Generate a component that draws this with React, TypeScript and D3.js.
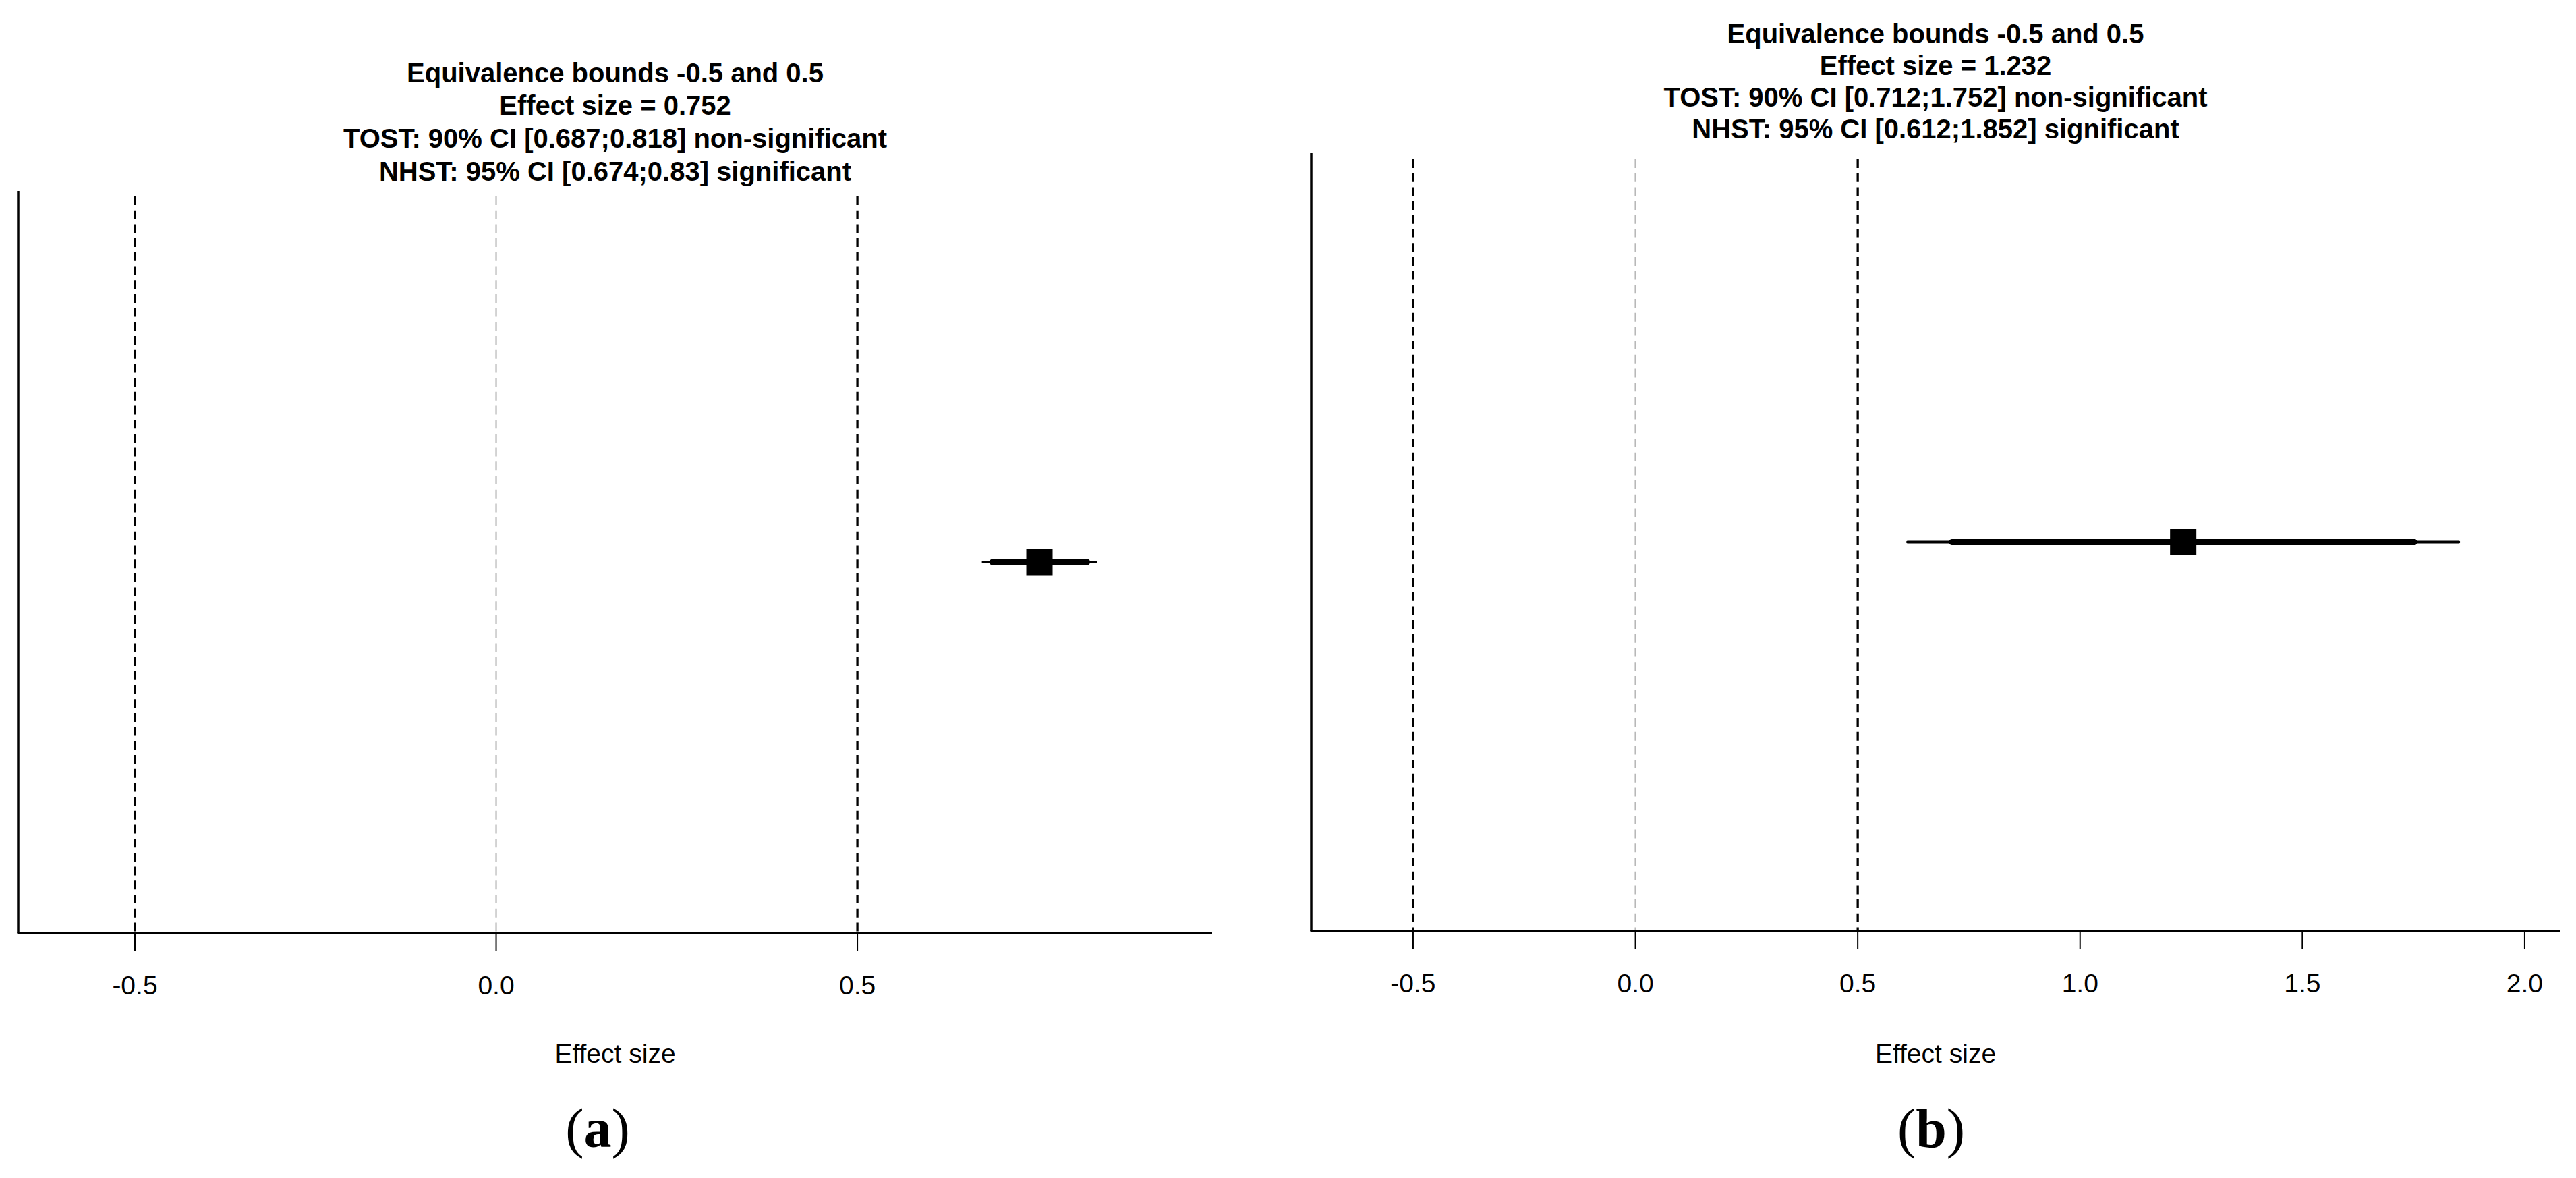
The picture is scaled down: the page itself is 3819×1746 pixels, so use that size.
import React, { useEffect, useRef } from 'react'
import * as d3 from 'd3'

// values
const panelNames = ['(a)', '(b)']
const effectSizes = [0.752, 1.232]
const ci90Lower = [0.687, 0.712]
const ci90Upper = [0.818, 1.752]
const ci95Lower = [0.674, 0.612]
const ci95Upper = [0.83, 1.852]
const equivBounds = [-0.5, 0.5]
const tickValuesA = [-0.5, 0.0, 0.5]
const tickValuesB = [-0.5, 0.0, 0.5, 1.0, 1.5, 2.0]
const xDomainA = [-0.6615, 0.991]
const xDomainB = [-0.729, 2.079]

const W = 3819
const H = 1746
const SANS = '"Liberation Sans", Arial, Helvetica, sans-serif'

// layout of each panel, in pixels
const layouts = [
    { left: 27, right: 1797, top: 283, bottom: 1383, dashTop: 291, titleBase: [122, 170, 219, 268], labelX: 886 },
    { left: 1944, right: 3795, top: 227, bottom: 1380, dashTop: 236, titleBase: [64, 111, 158, 205], labelX: 2863 }
]

// R prints a plain hyphen, not the unicode minus
const fmt = (d) => d3.format('.1f')(d).replace('\u2212', '-')

const App = () => {
    const ref = useRef(null)

    useEffect(() => {
        const svg = d3.select(ref.current)
        svg.selectAll('*').remove()

        const domains = [xDomainA, xDomainB]
        const ticks = [tickValuesA, tickValuesB]

        layouts.forEach((L, i) => {
            const x = d3.scaleLinear().domain(domains[i]).range([L.left, L.right])
            const y = d3.scaleLinear().domain([0, 1]).range([L.bottom, L.top])
            const g = svg.append('g')

            // title, four lines
            const lines = [
                'Equivalence bounds ' + equivBounds[0] + ' and ' + equivBounds[1],
                'Effect size = ' + effectSizes[i],
                'TOST: 90% CI [' + ci90Lower[i] + ';' + ci90Upper[i] + '] non-significant',
                'NHST: 95% CI [' + ci95Lower[i] + ';' + ci95Upper[i] + '] significant'
            ]
            g.selectAll('.title')
                .data(lines)
                .enter().append('text')
                .attr('x', (L.left + L.right) / 2)
                .attr('y', (d, k) => L.titleBase[k])
                .attr('text-anchor', 'middle')
                .style('font-family', SANS)
                .style('font-weight', 'bold')
                .style('font-size', '40px')
                .text(d => d)

            // zero line (grey) and equivalence bounds (black), dashed
            g.append('line')
                .attr('x1', x(0)).attr('x2', x(0))
                .attr('y1', L.dashTop).attr('y2', L.bottom)
                .attr('stroke', '#b8b8b8')
                .attr('stroke-width', 2.2)
                .attr('stroke-dasharray', '13 7.7')

            g.selectAll('.bound')
                .data(equivBounds)
                .enter().append('line')
                .attr('x1', d => x(d)).attr('x2', d => x(d))
                .attr('y1', L.dashTop).attr('y2', L.bottom)
                .attr('stroke', '#000')
                .attr('stroke-width', 3.3)
                .attr('stroke-dasharray', '13 7.7')

            // axes
            g.append('line')
                .attr('x1', L.left).attr('x2', L.left)
                .attr('y1', L.top).attr('y2', L.bottom)
                .attr('stroke', '#000').attr('stroke-width', 3.5)
            g.append('line')
                .attr('x1', L.left - 1.5).attr('x2', L.right)
                .attr('y1', L.bottom).attr('y2', L.bottom)
                .attr('stroke', '#000').attr('stroke-width', 3.8)

            g.selectAll('.tick')
                .data(ticks[i])
                .enter().append('line')
                .attr('x1', d => x(d)).attr('x2', d => x(d))
                .attr('y1', L.bottom).attr('y2', L.bottom + 27)
                .attr('stroke', '#000').attr('stroke-width', 2)

            g.selectAll('.ticklabel')
                .data(ticks[i])
                .enter().append('text')
                .attr('x', d => x(d))
                .attr('y', L.bottom + 91)
                .attr('text-anchor', 'middle')
                .style('font-family', SANS)
                .style('font-size', '39px')
                .text(d => fmt(d))

            g.append('text')
                .attr('x', (L.left + L.right) / 2)
                .attr('y', 1575)
                .attr('text-anchor', 'middle')
                .style('font-family', SANS)
                .style('font-size', '39px')
                .text('Effect size')

            // confidence intervals and point estimate
            const cy = y(0.5)
            g.append('line')
                .attr('x1', x(ci95Lower[i])).attr('x2', x(ci95Upper[i]))
                .attr('y1', cy).attr('y2', cy)
                .attr('stroke', '#000').attr('stroke-width', 4)
                .attr('stroke-linecap', 'round')
            g.append('line')
                .attr('x1', x(ci90Lower[i])).attr('x2', x(ci90Upper[i]))
                .attr('y1', cy).attr('y2', cy)
                .attr('stroke', '#000').attr('stroke-width', 9)
                .attr('stroke-linecap', 'round')
            g.append('rect')
                .attr('x', x(effectSizes[i]) - 19.5)
                .attr('y', cy - 19.5)
                .attr('width', 39)
                .attr('height', 39)
                .attr('fill', '#000')

            // panel label, bold letter in normal parentheses
            const lab = g.append('text')
                .attr('x', L.labelX)
                .attr('y', 1700)
                .attr('text-anchor', 'middle')
                .style('font-family', '"Liberation Serif", "Times New Roman", serif')
                .style('font-size', '82px')
            lab.append('tspan').text('(')
            lab.append('tspan').style('font-weight', 'bold').text(panelNames[i].slice(1, 2))
            lab.append('tspan').text(')')
        })
    }, [])

    return (
        <svg ref={ref} width={W} height={H}
            style={{ position: 'absolute', left: 0, top: 0, background: '#fff' }}>
        </svg>
    )
}
export default App
